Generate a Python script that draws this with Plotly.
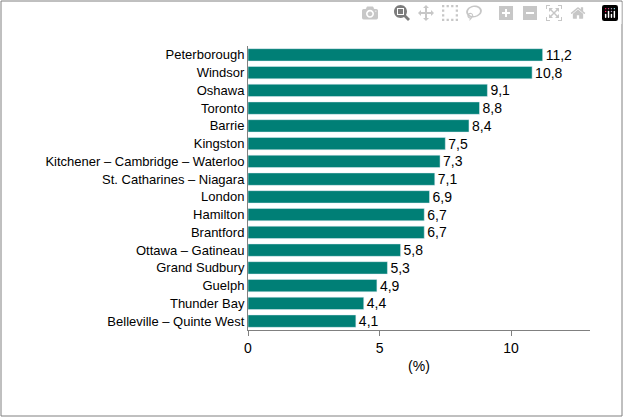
import plotly.graph_objects as go

cities = ["Peterborough","Windsor","Oshawa","Toronto","Barrie","Kingston",
          "Kitchener – Cambridge – Waterloo","St. Catharines – Niagara","London",
          "Hamilton","Brantford","Ottawa – Gatineau","Grand Sudbury","Guelph",
          "Thunder Bay","Belleville – Quinte West"]
values = [11.2,10.8,9.1,8.8,8.4,7.5,7.3,7.1,6.9,6.7,6.7,5.8,5.3,4.9,4.4,4.1]
labels = [f"{v:.1f}".replace(".", ",") for v in values]

fig = go.Figure(go.Bar(
    x=values, y=cities, orientation="h", marker_color="#007f76",
    text=labels, textposition="outside", cliponaxis=False, constraintext="none",
    textfont=dict(size=14, color="black"), width=0.7))

L, R, T, B = 248, 34, 46, 88
W, H = 624, 418
pw, ph = W - L - R, H - T - B
fig.update_layout(
    width=W, height=H, margin=dict(l=L, r=R, t=T, b=B),
    paper_bgcolor="white", plot_bgcolor="white",
    font=dict(family="Liberation Sans, Arial", size=13, color="black"),
    showlegend=False,
    xaxis=dict(range=[0, 13], tickvals=[0, 5, 10], showgrid=False, zeroline=False,
               showline=True, linecolor="#808080", ticks="outside", ticklen=5,
               tickcolor="#808080", tickfont=dict(size=14),
               title=dict(text="(%)", font=dict(size=14), standoff=6)),
    yaxis=dict(autorange="reversed", showline=True, linecolor="#808080",
               ticks="", showgrid=False, tickfont=dict(size=13)),
    shapes=[dict(type="rect", xref="paper", yref="paper",
                 x0=-(L - 1) / pw, x1=1 + (R - 2) / pw,
                 y0=-(B - 2) / ph, y1=1 + (T - 1) / ph,
                 line=dict(color="#808080", width=1))],
)
fig.write_html("out.html")
with open("out.html", encoding="utf-8") as f:
    html = f.read()
html = html.replace("<head>", "<head><style>body{margin:0;overflow:hidden}</style>", 1)
with open("out.html", "w", encoding="utf-8") as f:
    f.write(html)
